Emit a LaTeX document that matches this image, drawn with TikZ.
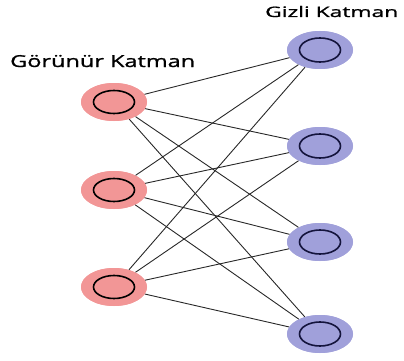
\documentclass[tikz,border=0pt]{standalone}
\usepackage{fontspec}
\setmainfont{Open Sans}
\newfontfamily\lblfont{Open Sans}[FakeBold=1]
\usetikzlibrary{shapes.geometric}
\definecolor{pinkfill}{RGB}{242,150,150}
\definecolor{lavfill}{RGB}{160,160,218}
\definecolor{navy}{RGB}{20,20,60}
\definecolor{edgecol}{RGB}{40,40,40}
\tikzset{
  x=1pt, y=-1pt,
  unitbase/.style={ellipse, minimum width=66pt, minimum height=38pt, inner sep=0pt},
  visunit/.style={unitbase, fill=pinkfill,
    path picture={\draw[line width=1.6pt, black] (path picture bounding box.center) ellipse (20.5pt and 11.5pt);}},
  hidunit/.style={unitbase, fill=lavfill,
    path picture={\draw[line width=1.6pt, navy] (path picture bounding box.center) ellipse (20.5pt and 12pt);}},
  conn/.style={draw=edgecol, line width=0.9pt},
  lbl/.style={inner sep=0pt, anchor=base west, font=\lblfont}
}
\begin{document}
\begin{tikzpicture}
\useasboundingbox (0,0) rectangle (404,361);
\node[visunit] (v1) at (114,102) {};
\node[visunit] (v2) at (114,190) {};
\node[visunit] (v3) at (114,287) {};
\node[hidunit] (h1) at (320,50) {};
\node[hidunit] (h2) at (320,146) {};
\node[hidunit] (h3) at (320,242) {};
\node[hidunit] (h4) at (320,334) {};
\foreach \v in {v1,v2,v3}{
  \foreach \h in {h1,h2,h3,h4}{
    \path[conn] (\v) -- (\h);
  }
}
\node[visunit] at (v1) {};
\node[visunit] at (v2) {};
\node[visunit] at (v3) {};
\node[hidunit] at (h1) {};
\node[hidunit] at (h2) {};
\node[hidunit] at (h3) {};
\node[hidunit] at (h4) {};
\node[lbl] (tv) at (10,67) {\resizebox{185pt}{12pt}{Görünür Katman}};
\node[lbl] (th) at (265,17) {\resizebox{133pt}{11pt}{Gizli Katman}};
\end{tikzpicture}
\end{document}
